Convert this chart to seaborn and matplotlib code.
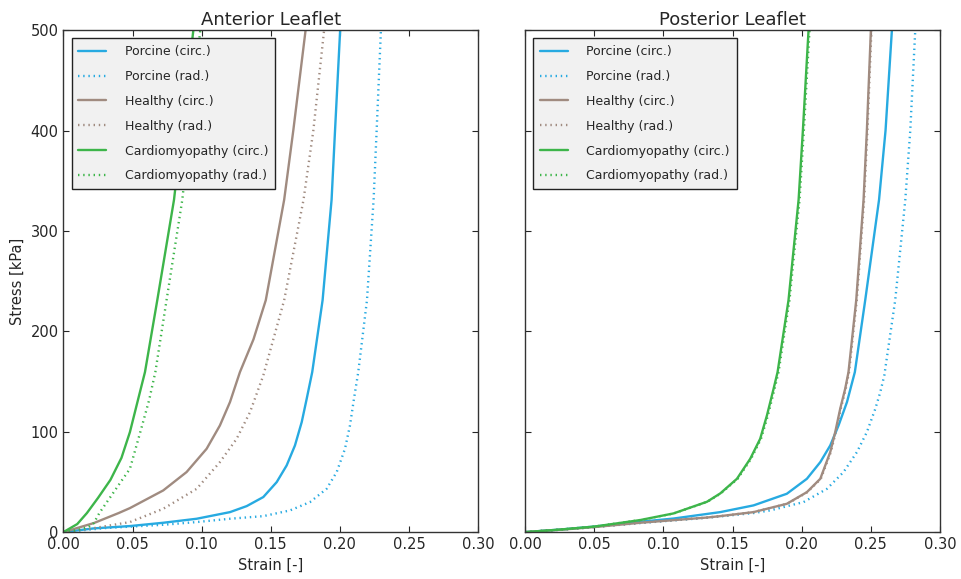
import numpy as np
import pandas as pd
import matplotlib
matplotlib.use("Agg")
import matplotlib.pyplot as plt
import seaborn as sns

# ---- measured stress-strain curves (strain [-], stress [kPa]) ----
# Anterior leaflet
ant_porcine_circ_strain = [0, 0.022, 0.0481, 0.0722, 0.0964, 0.1205, 0.1326, 0.1446, 0.1543, 0.1615,
                           0.1675, 0.1724, 0.1760, 0.1800, 0.1875, 0.1940, 0.1965, 0.2002]
ant_porcine_circ_stress = [0, 3.7, 6.0, 9.3, 13.3, 19.9, 25.9, 34.9, 49.8, 66.4,
                           86.3, 109.6, 132.8, 159.4, 231, 331, 400, 500]

ant_porcine_rad_strain = [0, 0.030, 0.0722, 0.0964, 0.1205, 0.1446, 0.1639, 0.1784, 0.1904, 0.1977,
                          0.2037, 0.2073, 0.2102, 0.2133, 0.2196, 0.2244, 0.2266, 0.2297]
ant_porcine_rad_stress = [0, 4, 7.3, 10, 13.3, 15.9, 21.6, 29.9, 43.1, 59.8,
                          83, 106.2, 132.8, 159.4, 231, 331, 400, 500]

ant_healthy_circ_strain = [0, 0.022, 0.040, 0.0481, 0.0722, 0.0891, 0.1036, 0.1132, 0.1205, 0.1277,
                           0.1375, 0.1464, 0.1597, 0.1663, 0.1752]
ant_healthy_circ_stress = [0, 9, 19, 23.9, 41.5, 59.8, 83, 106.2, 129.5, 159.4,
                           192, 231, 331, 400, 500]

ant_healthy_rad_strain = [0, 0.020, 0.0481, 0.0722, 0.0964, 0.1132, 0.1253, 0.1350, 0.1446, 0.1597,
                          0.1737, 0.1808, 0.1886]
ant_healthy_rad_stress = [0, 3.5, 10, 23.2, 43.1, 69.7, 92.9, 119.5, 156, 231,
                          331, 400, 500]

ant_cardio_circ_strain = [0, 0.010, 0.017, 0.025, 0.034, 0.042, 0.0481, 0.0539, 0.0590, 0.0679,
                          0.0800, 0.0940]
ant_cardio_circ_stress = [0, 8, 19, 34, 52, 74, 99.6, 131.5, 159.4, 231,
                          331, 500]

ant_cardio_rad_strain = [0, 0.010, 0.018, 0.022, 0.026, 0.034, 0.0425, 0.0481, 0.0565, 0.0620,
                         0.0665, 0.0746, 0.0860, 0.0990]
ant_cardio_rad_stress = [0, 2, 5, 9, 19, 35, 52, 63, 104, 131.5,
                         159.4, 231, 331, 500]

# Posterior leaflet
pos_porcine_circ_strain = [0, 0.025, 0.050, 0.0832, 0.1073, 0.1411, 0.1652, 0.1893, 0.2038, 0.2135,
                           0.2207, 0.2267, 0.2328, 0.2385, 0.2460, 0.2560, 0.2607, 0.2653]
pos_porcine_circ_stress = [0, 2.5, 5.5, 10.3, 13.5, 19.9, 26.6, 38.2, 53.1, 69.7,
                           86.3, 106.2, 129.5, 159.4, 231, 331, 400, 500]

pos_porcine_rad_strain = [0, 0.025, 0.050, 0.0832, 0.1315, 0.1652, 0.1773, 0.2014, 0.2183, 0.2303,
                          0.2400, 0.2472, 0.2533, 0.2569, 0.2598, 0.2677, 0.2750, 0.2786, 0.2822]
pos_porcine_rad_stress = [0, 2.3, 5, 9.0, 14.3, 19, 21.6, 29.9, 43.1, 59.8,
                          79.7, 99.6, 122.8, 139.4, 156, 231, 331, 400, 500]

pos_healthy_circ_strain = [0, 0.025, 0.050, 0.0832, 0.1315, 0.1411, 0.1652, 0.1893, 0.2038, 0.2135,
                           0.2207, 0.2243, 0.2279, 0.2315, 0.2339, 0.2395, 0.2448, 0.2472, 0.2501]
pos_healthy_circ_stress = [0, 2.3, 5, 9.3, 14.5, 15.9, 19.9, 28.2, 39.8, 53.1,
                           79.7, 99.6, 122.8, 142.7, 159.4, 231, 331, 400, 500]

pos_healthy_rad_strain = [0, 0.025, 0.050, 0.0832, 0.1315, 0.1411, 0.1652, 0.1896, 0.2042, 0.2139,
                          0.2211, 0.2247, 0.2283, 0.2319, 0.2343, 0.2399, 0.2452, 0.2476, 0.2505]
pos_healthy_rad_stress = [0, 2.3, 5, 9.3, 14.5, 15.9, 19.9, 28.2, 39.8, 53.1,
                          79.7, 99.6, 122.8, 142.7, 159.4, 231, 331, 400, 500]

pos_cardio_circ_strain = [0, 0.025, 0.050, 0.0832, 0.1073, 0.1315, 0.1411, 0.1532, 0.1628, 0.1700,
                          0.1749, 0.1797, 0.1826, 0.1905, 0.1978, 0.2009, 0.2050]
pos_cardio_circ_stress = [0, 2.5, 5.5, 12, 18.6, 30.2, 38.5, 53.1, 73, 92.9,
                          116.2, 142.7, 159.4, 231, 331, 400, 500]

pos_cardio_rad_strain = [0, 0.025, 0.050, 0.0832, 0.1075, 0.1318, 0.1415, 0.1537, 0.1634, 0.1706,
                         0.1756, 0.1804, 0.1833, 0.1912, 0.1985, 0.2016, 0.2057]
pos_cardio_rad_stress = [0, 2.5, 5.5, 12, 18.6, 30.2, 38.5, 53.1, 73, 92.9,
                         116.2, 142.7, 159.4, 231, 331, 400, 500]

series_labels = ["Porcine (circ.)", "Porcine (rad.)", "Healthy (circ.)",
                 "Healthy (rad.)", "Cardiomyopathy (circ.)", "Cardiomyopathy (rad.)"]
panel_titles = ["Anterior Leaflet", "Posterior Leaflet"]
x_ticks = [0.00, 0.05, 0.10, 0.15, 0.20, 0.25, 0.30]
y_ticks = [0, 100, 200, 300, 400, 500]

anterior = [
    (ant_porcine_circ_strain, ant_porcine_circ_stress),
    (ant_porcine_rad_strain, ant_porcine_rad_stress),
    (ant_healthy_circ_strain, ant_healthy_circ_stress),
    (ant_healthy_rad_strain, ant_healthy_rad_stress),
    (ant_cardio_circ_strain, ant_cardio_circ_stress),
    (ant_cardio_rad_strain, ant_cardio_rad_stress),
]
posterior = [
    (pos_porcine_circ_strain, pos_porcine_circ_stress),
    (pos_porcine_rad_strain, pos_porcine_rad_stress),
    (pos_healthy_circ_strain, pos_healthy_circ_stress),
    (pos_healthy_rad_strain, pos_healthy_rad_stress),
    (pos_cardio_circ_strain, pos_cardio_circ_stress),
    (pos_cardio_rad_strain, pos_cardio_rad_stress),
]

colors = ["#27aae1", "#27aae1", "#a08b80", "#a08b80", "#3db54a", "#3db54a"]
solid = "-"
dotted = (0, (0.6, 1.6))
styles = [solid, dotted, solid, dotted, solid, dotted]

sns.set_style("ticks")
plt.rcParams.update({
    "font.family": ["DejaVu Sans"],
    "xtick.direction": "in",
    "ytick.direction": "in",
    "xtick.top": True,
    "ytick.right": True,
    "xtick.major.size": 4,
    "ytick.major.size": 4,
    "xtick.labelsize": 10.5,
    "ytick.labelsize": 10.5,
    "axes.edgecolor": "black",
    "axes.linewidth": 1.0,
})

fig = plt.figure(figsize=(9.61, 5.79), dpi=100)
ax_l = fig.add_axes([0.066, 0.081, 0.4315, 0.867])
ax_r = fig.add_axes([0.5465, 0.081, 0.4315, 0.867], sharey=ax_l)

for ax, panel, title in zip([ax_l, ax_r], [anterior, posterior], panel_titles):
    for (x, y), lab, c, ls in zip(panel, series_labels, colors, styles):
        df = pd.DataFrame({"strain": x, "stress": y})
        sns.lineplot(data=df, x="strain", y="stress", ax=ax, color=c,
                     linestyle=ls, linewidth=1.7, label=lab,
                     estimator=None, sort=False)
    ax.set_xlim(0, 0.30)
    ax.set_ylim(0, 500)
    ax.set_xticks(x_ticks)
    ax.set_yticks(y_ticks)
    ax.set_xticklabels([f"{v:.2f}" for v in x_ticks])
    ax.set_title(title, fontsize=13, pad=4)
    ax.set_xlabel("Strain [-]", fontsize=10.5, labelpad=4)
    for s in ax.spines.values():
        s.set_visible(True)
        s.set_color("#333333")
    leg = ax.legend(loc="upper left", fontsize=9, frameon=True, fancybox=False,
                    framealpha=1.0, facecolor="#f1f1f1", edgecolor="#222222",
                    handlelength=2.2, handletextpad=1.5, labelspacing=0.95,
                    borderpad=0.55, borderaxespad=0.65)
    leg.get_frame().set_linewidth(1.0)

ax_l.set_ylabel("Stress [kPa]", fontsize=10.5)
ax_r.set_ylabel("")
plt.setp(ax_r.get_yticklabels(), visible=False)

fig.savefig("out.png", dpi=100)
